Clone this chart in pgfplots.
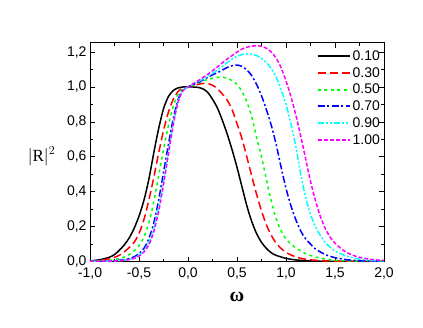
\documentclass[border=0pt]{standalone}
\usepackage{pgfplots}
\pgfplotsset{compat=1.18}
\usepackage{fontspec}
\setmainfont{Liberation Sans}
\newfontfamily\seriffont{Liberation Serif}
\definecolor{cRed}{RGB}{255,0,0}
\definecolor{cGreen}{RGB}{0,255,0}
\definecolor{cBlue}{RGB}{0,0,255}
\definecolor{cCyan}{RGB}{0,255,255}
\definecolor{cMag}{RGB}{255,0,255}

\begin{document}
\begin{tikzpicture}
\begin{axis}[
    at={(0pt,0pt)}, anchor=south west,
    scale only axis,
    width=294pt, height=219pt,
    xmin=-1, xmax=2, ymin=0, ymax=1.255,
    xtick={-1,-0.5,...,2}, ytick={0,0.2,...,1.2},
    minor x tick num=1, minor y tick num=1,
    tick align=inside,
    major tick length=5pt, minor tick length=3pt,
    axis line style={line width=0.8pt},
    every tick/.style={black, line width=0.7pt},
    tick label style={font=\fontsize{14}{16}\selectfont},
    x tick label style={yshift=-3pt},
    /pgf/number format/.cd, use comma, fixed, fixed zerofill, precision=1, assume math mode=true,
    /pgfplots/.cd,
    xlabel={\seriffont\bfseries\fontsize{20}{22}\selectfont ω},
    ylabel={\seriffont\fontsize{17}{18}\selectfont $|$R$|^2$},
    ylabel style={rotate=-90, at={(ticklabel cs:0.48)}, anchor=east, xshift=-5pt},
    xlabel style={yshift=-6pt},
    legend style={draw=none, fill=none, at={(rel axis cs:0.997,0.978)}, anchor=north east,
        font=\fontsize{14}{16}\selectfont, row sep=1.5pt, inner sep=1pt},
    legend cell align=left,
    legend image code/.code={\draw[#1, line width=2pt] (0pt,0pt) -- (32pt,0pt);},
    every axis plot/.append style={line width=1.5pt, smooth},
]
\addplot[black] coordinates {
(-1.0,0.004) (-0.9,0.01) (-0.8,0.025) (-0.75,0.04) (-0.7,0.065) (-0.65,0.095) (-0.6,0.135) (-0.55,0.19) (-0.5,0.26) (-0.45,0.35) (-0.4,0.47) (-0.35,0.62) (-0.3,0.76) (-0.25,0.875) (-0.2,0.945) (-0.15,0.98) (-0.1,0.995) (-0.05,1.0) (0,1.0) (0.05,1.0) (0.1,0.998) (0.15,0.99) (0.2,0.97) (0.25,0.93) (0.3,0.88) (0.35,0.81) (0.4,0.73) (0.45,0.64) (0.5,0.54) (0.55,0.43) (0.6,0.32) (0.65,0.23) (0.7,0.16) (0.75,0.11) (0.8,0.075) (0.85,0.05) (0.9,0.035) (1.0,0.018) (1.1,0.009) (1.2,0.005) (1.4,0.001) (2.0,0)
};
\addplot[cRed, dash pattern=on 8pt off 4pt] coordinates {
(-1.0,0.002) (-0.9,0.006) (-0.85,0.01) (-0.8,0.016) (-0.75,0.024) (-0.7,0.036) (-0.65,0.055) (-0.6,0.08) (-0.55,0.11) (-0.5,0.16) (-0.45,0.24) (-0.4,0.35) (-0.35,0.48) (-0.3,0.62) (-0.25,0.75) (-0.2,0.855) (-0.15,0.93) (-0.1,0.975) (-0.05,0.995) (0,1.0) (0.05,1.008) (0.1,1.015) (0.15,1.02) (0.2,1.02) (0.25,1.01) (0.3,0.99) (0.35,0.96) (0.4,0.925) (0.45,0.87) (0.5,0.79) (0.55,0.705) (0.6,0.6) (0.65,0.49) (0.7,0.385) (0.75,0.29) (0.8,0.21) (0.85,0.15) (0.9,0.105) (0.95,0.075) (1.0,0.052) (1.1,0.026) (1.2,0.013) (1.3,0.007) (1.4,0.004) (1.6,0.001) (2.0,0)
};
\addplot[cGreen, dash pattern=on 3pt off 3.5pt] coordinates {
(-1,0.001) (-0.9,0.003) (-0.8,0.007) (-0.75,0.011) (-0.7,0.017) (-0.65,0.026) (-0.6,0.04) (-0.55,0.06) (-0.5,0.09) (-0.45,0.14) (-0.4,0.22) (-0.35,0.34) (-0.3,0.49) (-0.25,0.64) (-0.2,0.78) (-0.15,0.89) (-0.1,0.96) (-0.05,0.99) (0,1.0) (0.05,1.01) (0.1,1.022) (0.15,1.033) (0.2,1.043) (0.25,1.05) (0.3,1.055) (0.35,1.056) (0.4,1.05) (0.45,1.037) (0.5,1.015) (0.55,0.975) (0.6,0.915) (0.65,0.83) (0.7,0.71) (0.75,0.6) (0.8,0.47) (0.85,0.345) (0.9,0.245) (0.95,0.175) (1.0,0.13) (1.05,0.1) (1.1,0.078) (1.2,0.045) (1.3,0.026) (1.4,0.014) (1.5,0.007) (1.7,0.002) (2.0,0)
};
\addplot[cBlue, dash pattern=on 7pt off 2.5pt on 2pt off 2.5pt] coordinates {
(-1,0.0005) (-0.9,0.001) (-0.8,0.003) (-0.7,0.007) (-0.65,0.011) (-0.6,0.017) (-0.55,0.027) (-0.5,0.045) (-0.45,0.075) (-0.4,0.13) (-0.35,0.22) (-0.3,0.35) (-0.25,0.51) (-0.2,0.67) (-0.15,0.82) (-0.1,0.93) (-0.05,0.985) (0,1.0) (0.05,1.012) (0.1,1.025) (0.15,1.04) (0.2,1.055) (0.25,1.07) (0.3,1.082) (0.35,1.097) (0.4,1.112) (0.45,1.122) (0.5,1.126) (0.55,1.118) (0.6,1.098) (0.65,1.065) (0.7,1.015) (0.75,0.95) (0.8,0.87) (0.85,0.78) (0.9,0.67) (0.95,0.54) (1.0,0.42) (1.05,0.32) (1.1,0.24) (1.15,0.175) (1.2,0.13) (1.25,0.1) (1.3,0.072) (1.4,0.04) (1.5,0.022) (1.6,0.012) (1.7,0.006) (1.8,0.003) (2.0,0.001)
};
\addplot[cCyan, dash pattern=on 6pt off 2pt on 2pt off 2pt on 2pt off 2pt] coordinates {
(-1,0.0005) (-0.8,0.002) (-0.7,0.005) (-0.65,0.008) (-0.6,0.013) (-0.55,0.021) (-0.5,0.036) (-0.45,0.062) (-0.4,0.11) (-0.35,0.19) (-0.3,0.31) (-0.25,0.46) (-0.2,0.63) (-0.15,0.795) (-0.1,0.92) (-0.05,0.98) (0,1.0) (0.05,1.015) (0.1,1.03) (0.15,1.045) (0.2,1.06) (0.25,1.078) (0.3,1.097) (0.35,1.118) (0.4,1.14) (0.45,1.16) (0.5,1.175) (0.55,1.186) (0.6,1.19) (0.65,1.188) (0.7,1.18) (0.75,1.163) (0.8,1.14) (0.85,1.105) (0.9,1.055) (0.95,0.985) (1.0,0.9) (1.05,0.79) (1.1,0.66) (1.15,0.5) (1.2,0.37) (1.25,0.27) (1.3,0.2) (1.35,0.15) (1.4,0.11) (1.45,0.082) (1.5,0.06) (1.6,0.034) (1.7,0.019) (1.8,0.01) (1.9,0.005) (2.0,0.003)
};
\addplot[cMag, dash pattern=on 4pt off 2pt] coordinates {
(-1,0.0005) (-0.8,0.002) (-0.7,0.004) (-0.65,0.007) (-0.6,0.011) (-0.55,0.018) (-0.5,0.031) (-0.45,0.054) (-0.4,0.095) (-0.35,0.17) (-0.3,0.285) (-0.25,0.44) (-0.2,0.615) (-0.15,0.785) (-0.1,0.915) (-0.05,0.98) (0,1.0) (0.05,1.018) (0.1,1.035) (0.15,1.053) (0.2,1.072) (0.25,1.093) (0.3,1.115) (0.35,1.138) (0.4,1.16) (0.45,1.18) (0.5,1.2) (0.55,1.217) (0.6,1.228) (0.65,1.234) (0.7,1.236) (0.75,1.233) (0.8,1.222) (0.85,1.2) (0.9,1.165) (0.95,1.11) (1.0,1.035) (1.05,0.945) (1.1,0.84) (1.15,0.72) (1.2,0.59) (1.25,0.46) (1.3,0.35) (1.35,0.26) (1.4,0.19) (1.45,0.14) (1.5,0.105) (1.6,0.058) (1.7,0.032) (1.8,0.018) (1.9,0.01) (2.0,0.006)
};
\legend{0.10,0.30,0.50,0.70,0.90,1.00}
\end{axis}
\path[use as bounding box] (-90pt,-65.5pt) rectangle (333pt,261.5pt);
\end{tikzpicture}
\end{document}
